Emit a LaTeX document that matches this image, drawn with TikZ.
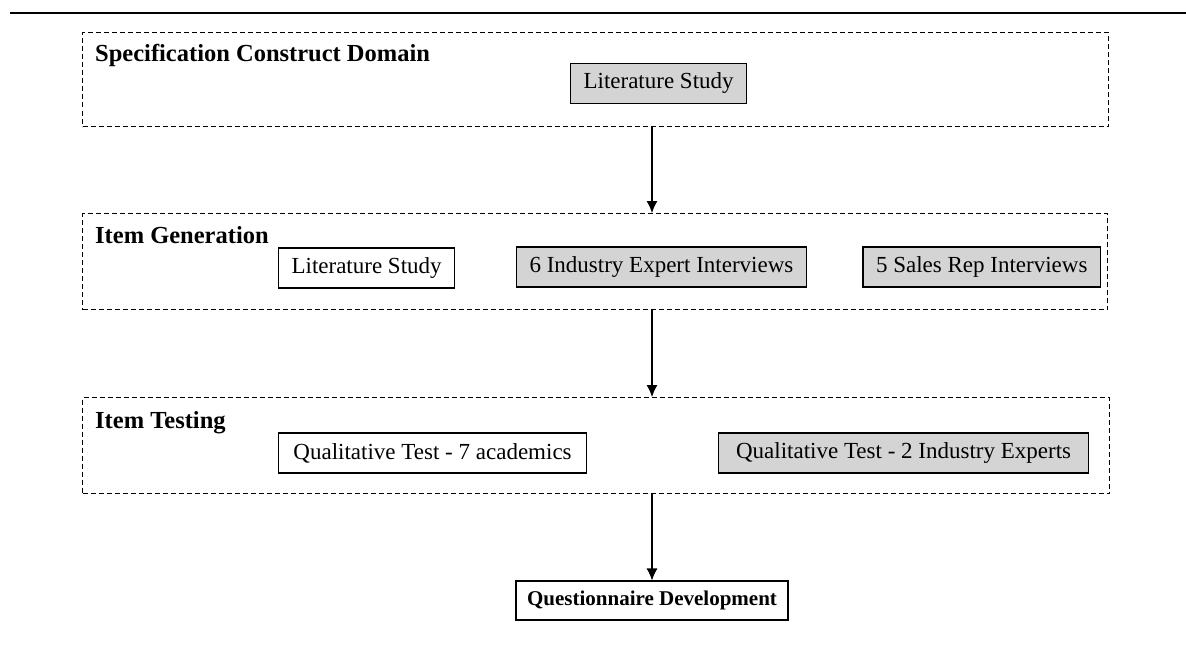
\documentclass[tikz,border=0pt]{standalone}
\usepackage{fontspec}
\setmainfont{Liberation Serif}
\usetikzlibrary{arrows.meta,positioning}
\begin{document}
\begin{tikzpicture}[x=1pt,y=-1pt,
  stage/.style={draw,line width=1pt,dash pattern=on 5pt off 3pt,inner sep=0pt,anchor=north west},
  stagetitle/.style={anchor=base west,inner sep=0pt,font=\fontsize{24.5}{28}\selectfont\bfseries},
  item/.style={draw,line width=1.1pt,inner xsep=13pt,inner ysep=0pt,minimum height=40pt,
               font=\fontsize{23}{27}\selectfont},
  shaded/.style={item,fill=black!17},
  plain/.style={item,fill=white},
  arr/.style={line width=1.1pt,-{Latex[length=12pt,width=11pt]}}]
\useasboundingbox (0,0) rectangle (1186,645);
% header rule
\coordinate (ruleL) at (10,13);
\coordinate (ruleR) at (1186,13);
\draw[line width=1.5pt] (ruleL) -- (ruleR);

% stage frames
\node[stage,minimum width=1026pt,minimum height=94pt] (s1) at (82,32) {};
\node[stage,minimum width=1025pt,minimum height=96pt] (s2) at (82,213) {};
\node[stage,minimum width=1027pt,minimum height=96pt] (s3) at (82,397) {};

% stage titles
\node[stagetitle] (t1) at (95,61) {Specification Construct Domain};
\node[stagetitle] (t2) at (95,243) {Item Generation};
\node[stagetitle] (t3) at (95,428) {Item Testing};

% stage 1 content
\node[shaded,anchor=west] (lit1) at (570,83.5) {Literature Study};

% stage 2 content
\node[plain,anchor=west] (lit2) at (278,268) {Literature Study};
\node[shaded,anchor=west] (exp) at (516,267) {6 Industry Expert Interviews};
\node[shaded,anchor=east] (rep) at (1101,267) {5 Sales Rep Interviews};

% stage 3 content
\node[plain,anchor=west,minimum width=308pt] (qa) at (278,453) {Qualitative Test - 7 academics};
\node[shaded,anchor=west,minimum width=370pt] (qi) at (718,453) {Qualitative Test - 2 Industry Experts};

% outcome
\node[draw,line width=1.1pt,fill=white,inner sep=0pt,minimum width=272pt,minimum height=39pt,
      font=\fontsize{21}{25}\selectfont\bfseries] (qd) at (652,600.5) {Questionnaire Development};

% flow between stages
\draw[arr] (s1.south -| qd) -- (s2.north -| qd);
\draw[arr] (s2.south -| qd) -- (s3.north -| qd);
\draw[arr] (s3.south -| qd) -- (qd.north);
\end{tikzpicture}
\end{document}
